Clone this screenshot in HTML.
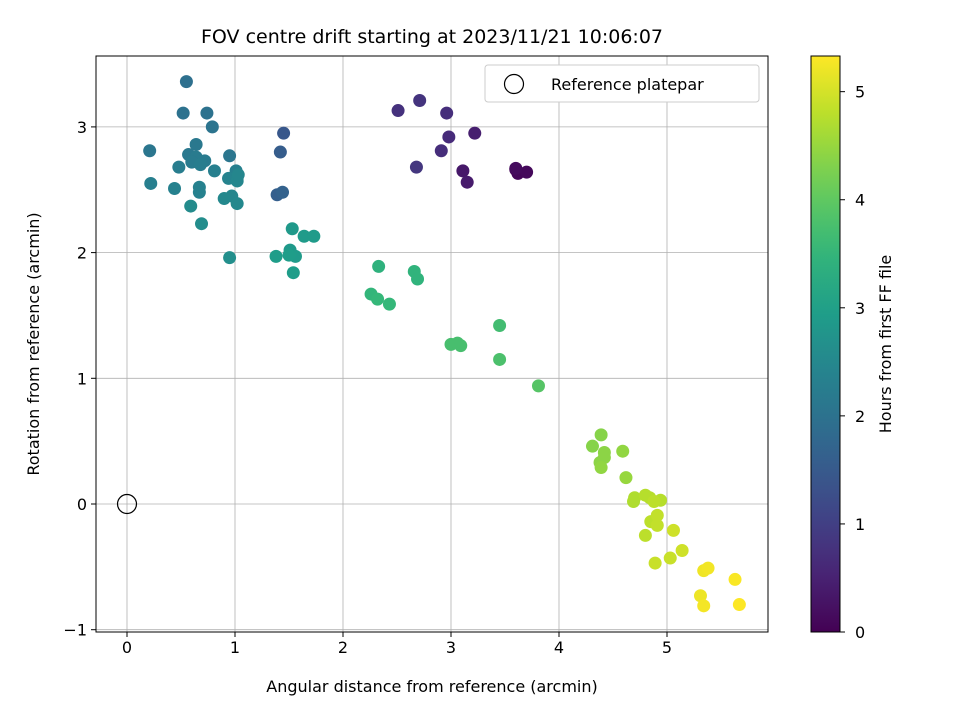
<!DOCTYPE html>
<html><head><meta charset="utf-8"><style>
body{margin:0;background:#fff;font-family:"Liberation Sans","DejaVu Sans",sans-serif}
svg text{font-family:"DejaVu Sans","Liberation Sans",sans-serif;fill:#000}
</style></head><body>
<svg id="chart" width="960" height="720"></svg>
<script>
const xs=[3.60,3.62,3.70,3.60,3.11,3.15,3.22,2.51,2.71,2.96,2.98,2.91,2.68,1.45,1.42,1.39,1.44,
0.55,0.74,0.52,0.79,0.21,0.95,0.64,0.57,0.64,0.72,0.60,0.48,0.68,0.81,1.01,0.22,0.44,0.67,0.67,0.94,1.02,1.02,1.03,0.97,0.90,1.02,0.59,0.69,0.95,
1.53,1.51,1.64,1.73,1.56,1.38,1.54,1.50,
2.33,2.66,2.69,2.26,2.32,2.43,3.45,3.00,3.06,3.09,3.45,3.81,
4.39,4.31,4.42,4.42,4.38,4.39,4.59,4.62,
4.70,4.69,4.80,4.84,4.94,4.88,4.80,4.85,4.91,4.91,4.89,5.03,5.06,5.14,
5.31,5.34,5.38,5.34,5.63,5.67];
const ys=[2.66,2.63,2.64,2.67,2.65,2.56,2.95,3.13,3.21,3.11,2.92,2.81,2.68,2.95,2.80,2.46,2.48,
3.36,3.11,3.11,3.00,2.81,2.77,2.86,2.78,2.76,2.73,2.72,2.68,2.70,2.65,2.65,2.55,2.51,2.52,2.48,2.59,2.59,2.57,2.62,2.45,2.43,2.39,2.37,2.23,1.96,
2.19,2.02,2.13,2.13,1.97,1.97,1.84,1.98,
1.89,1.85,1.79,1.67,1.63,1.59,1.42,1.27,1.28,1.26,1.15,0.94,
0.55,0.46,0.41,0.37,0.33,0.29,0.42,0.21,
0.05,0.02,0.07,0.05,0.03,0.02,-0.25,-0.14,-0.09,-0.17,-0.47,-0.43,-0.21,-0.37,
-0.73,-0.53,-0.51,-0.81,-0.60,-0.80];
const hours=[0.02,0.08,0.12,0.15,0.35,0.40,0.45,0.75,0.80,0.70,0.65,0.70,0.85,1.45,1.55,1.60,1.65,
1.95,2.0,2.0,2.05,2.1,2.1,2.15,2.15,2.2,2.2,2.2,2.25,2.25,2.3,2.3,2.3,2.35,2.35,2.35,2.4,2.4,2.45,2.45,2.45,2.5,2.5,2.55,2.6,2.65,
2.85,2.85,2.9,2.9,2.9,2.95,2.95,2.95,
3.4,3.45,3.45,3.5,3.55,3.55,3.7,3.75,3.75,3.75,3.8,3.9,
4.35,4.35,4.4,4.4,4.4,4.45,4.45,4.5,
4.7,4.7,4.75,4.75,4.75,4.8,4.8,4.8,4.85,4.85,4.9,4.9,4.95,4.95,
5.2,5.22,5.24,5.26,5.3,5.32];
const xTicks=[0,1,2,3,4,5], yTicks=[-1,0,1,2,3], cTicks=[0,1,2,3,4,5];
const L=96,R=768,T=56,B=632;
const X=v=>127+v*108, Y=v=>504-v*125.7;
const HMAX=5.33, C=h=>632-h/HMAX*(632-56);
const vir=[[68,1,84],[72,40,120],[62,74,137],[49,104,142],[38,130,142],[31,158,137],[53,183,121],[109,205,89],[180,222,44],[253,231,37]];
function col(t){t=Math.max(0,Math.min(1,t))*9;const i=Math.min(8,Math.floor(t)),f=t-i,a=vir[i],b=vir[i+1];
return `rgb(${a.map((v,k)=>Math.round(v+(b[k]-v)*f)).join(',')})`;}
const svg=document.getElementById('chart'),NS='http://www.w3.org/2000/svg';
function mk(tag,at,txt){const e=document.createElementNS(NS,tag);for(const k in at)e.setAttribute(k,at[k]);if(txt!==undefined)e.textContent=txt;svg.appendChild(e);return e;}
let e;
xTicks.forEach(v=>{e=mk('line',{x1:X(v),x2:X(v),y1:T,y2:B,stroke:'#b0b0b0','stroke-width':0.8});

e=mk('line',{x1:X(v),x2:X(v),y1:B,y2:B+5,stroke:'#000'});
e=mk('text',{x:X(v),y:B+21,'text-anchor':'middle','font-size':16},v);});
yTicks.forEach(v=>{e=mk('line',{x1:L,x2:R,y1:Y(v),y2:Y(v),stroke:'#b0b0b0','stroke-width':0.8});

e=mk('line',{x1:L-5,x2:L,y1:Y(v),y2:Y(v),stroke:'#000'});
e=mk('text',{x:L-9,y:Y(v)+6,'text-anchor':'end','font-size':16},v<0?'\u22121':v);});
xs.forEach((x,i)=>{e=mk('circle',{cx:X(x),cy:Y(ys[i]),r:6.5,fill:col(hours[i]/HMAX)});
});
e=mk('circle',{cx:X(0),cy:Y(0),r:9.5,fill:'none',stroke:'#000','stroke-width':1.2});
e=mk('rect',{x:L,y:T,width:R-L,height:B-T,fill:'none',stroke:'#000','stroke-width':1});
e=mk('rect',{x:485,y:65,width:274,height:37,rx:3,fill:'#fff',stroke:'#ccc'});
e=mk('circle',{cx:514,cy:84,r:9.5,fill:'none',stroke:'#000','stroke-width':1.2});
e=mk('text',{x:551,y:90,'font-size':16},'Reference platepar');
e=mk('text',{x:432,y:43,'text-anchor':'middle','font-size':19},'FOV centre drift starting at 2023/11/21 10:06:07');
e=mk('text',{x:432,y:692,'text-anchor':'middle','font-size':16},'Angular distance from reference (arcmin)');
e=mk('text',{x:39,y:344,'text-anchor':'middle','font-size':16,transform:'rotate(-90 39 344)'},'Rotation from reference (arcmin)');
const defs=mk('defs',{});const g=document.createElementNS(NS,'linearGradient');g.setAttribute('id','vg');g.setAttribute('x1',0);g.setAttribute('y1',1);g.setAttribute('x2',0);g.setAttribute('y2',0);defs.appendChild(g);
for(let i=0;i<=20;i++){const s=document.createElementNS(NS,'stop');s.setAttribute('offset',i/20);s.setAttribute('stop-color',col(i/20));g.appendChild(s);}
e=mk('rect',{x:811,y:56,width:29,height:576,fill:'url(#vg)',stroke:'#000','stroke-width':1});
cTicks.forEach(v=>{e=mk('line',{x1:840,x2:845,y1:C(v),y2:C(v),stroke:'#000'});
e=mk('text',{x:855,y:C(v)+6,'font-size':16},v);});
e=mk('text',{x:891,y:344,'text-anchor':'middle','font-size':16,transform:'rotate(-90 891 344)'},'Hours from first FF file');
</script></body></html>
